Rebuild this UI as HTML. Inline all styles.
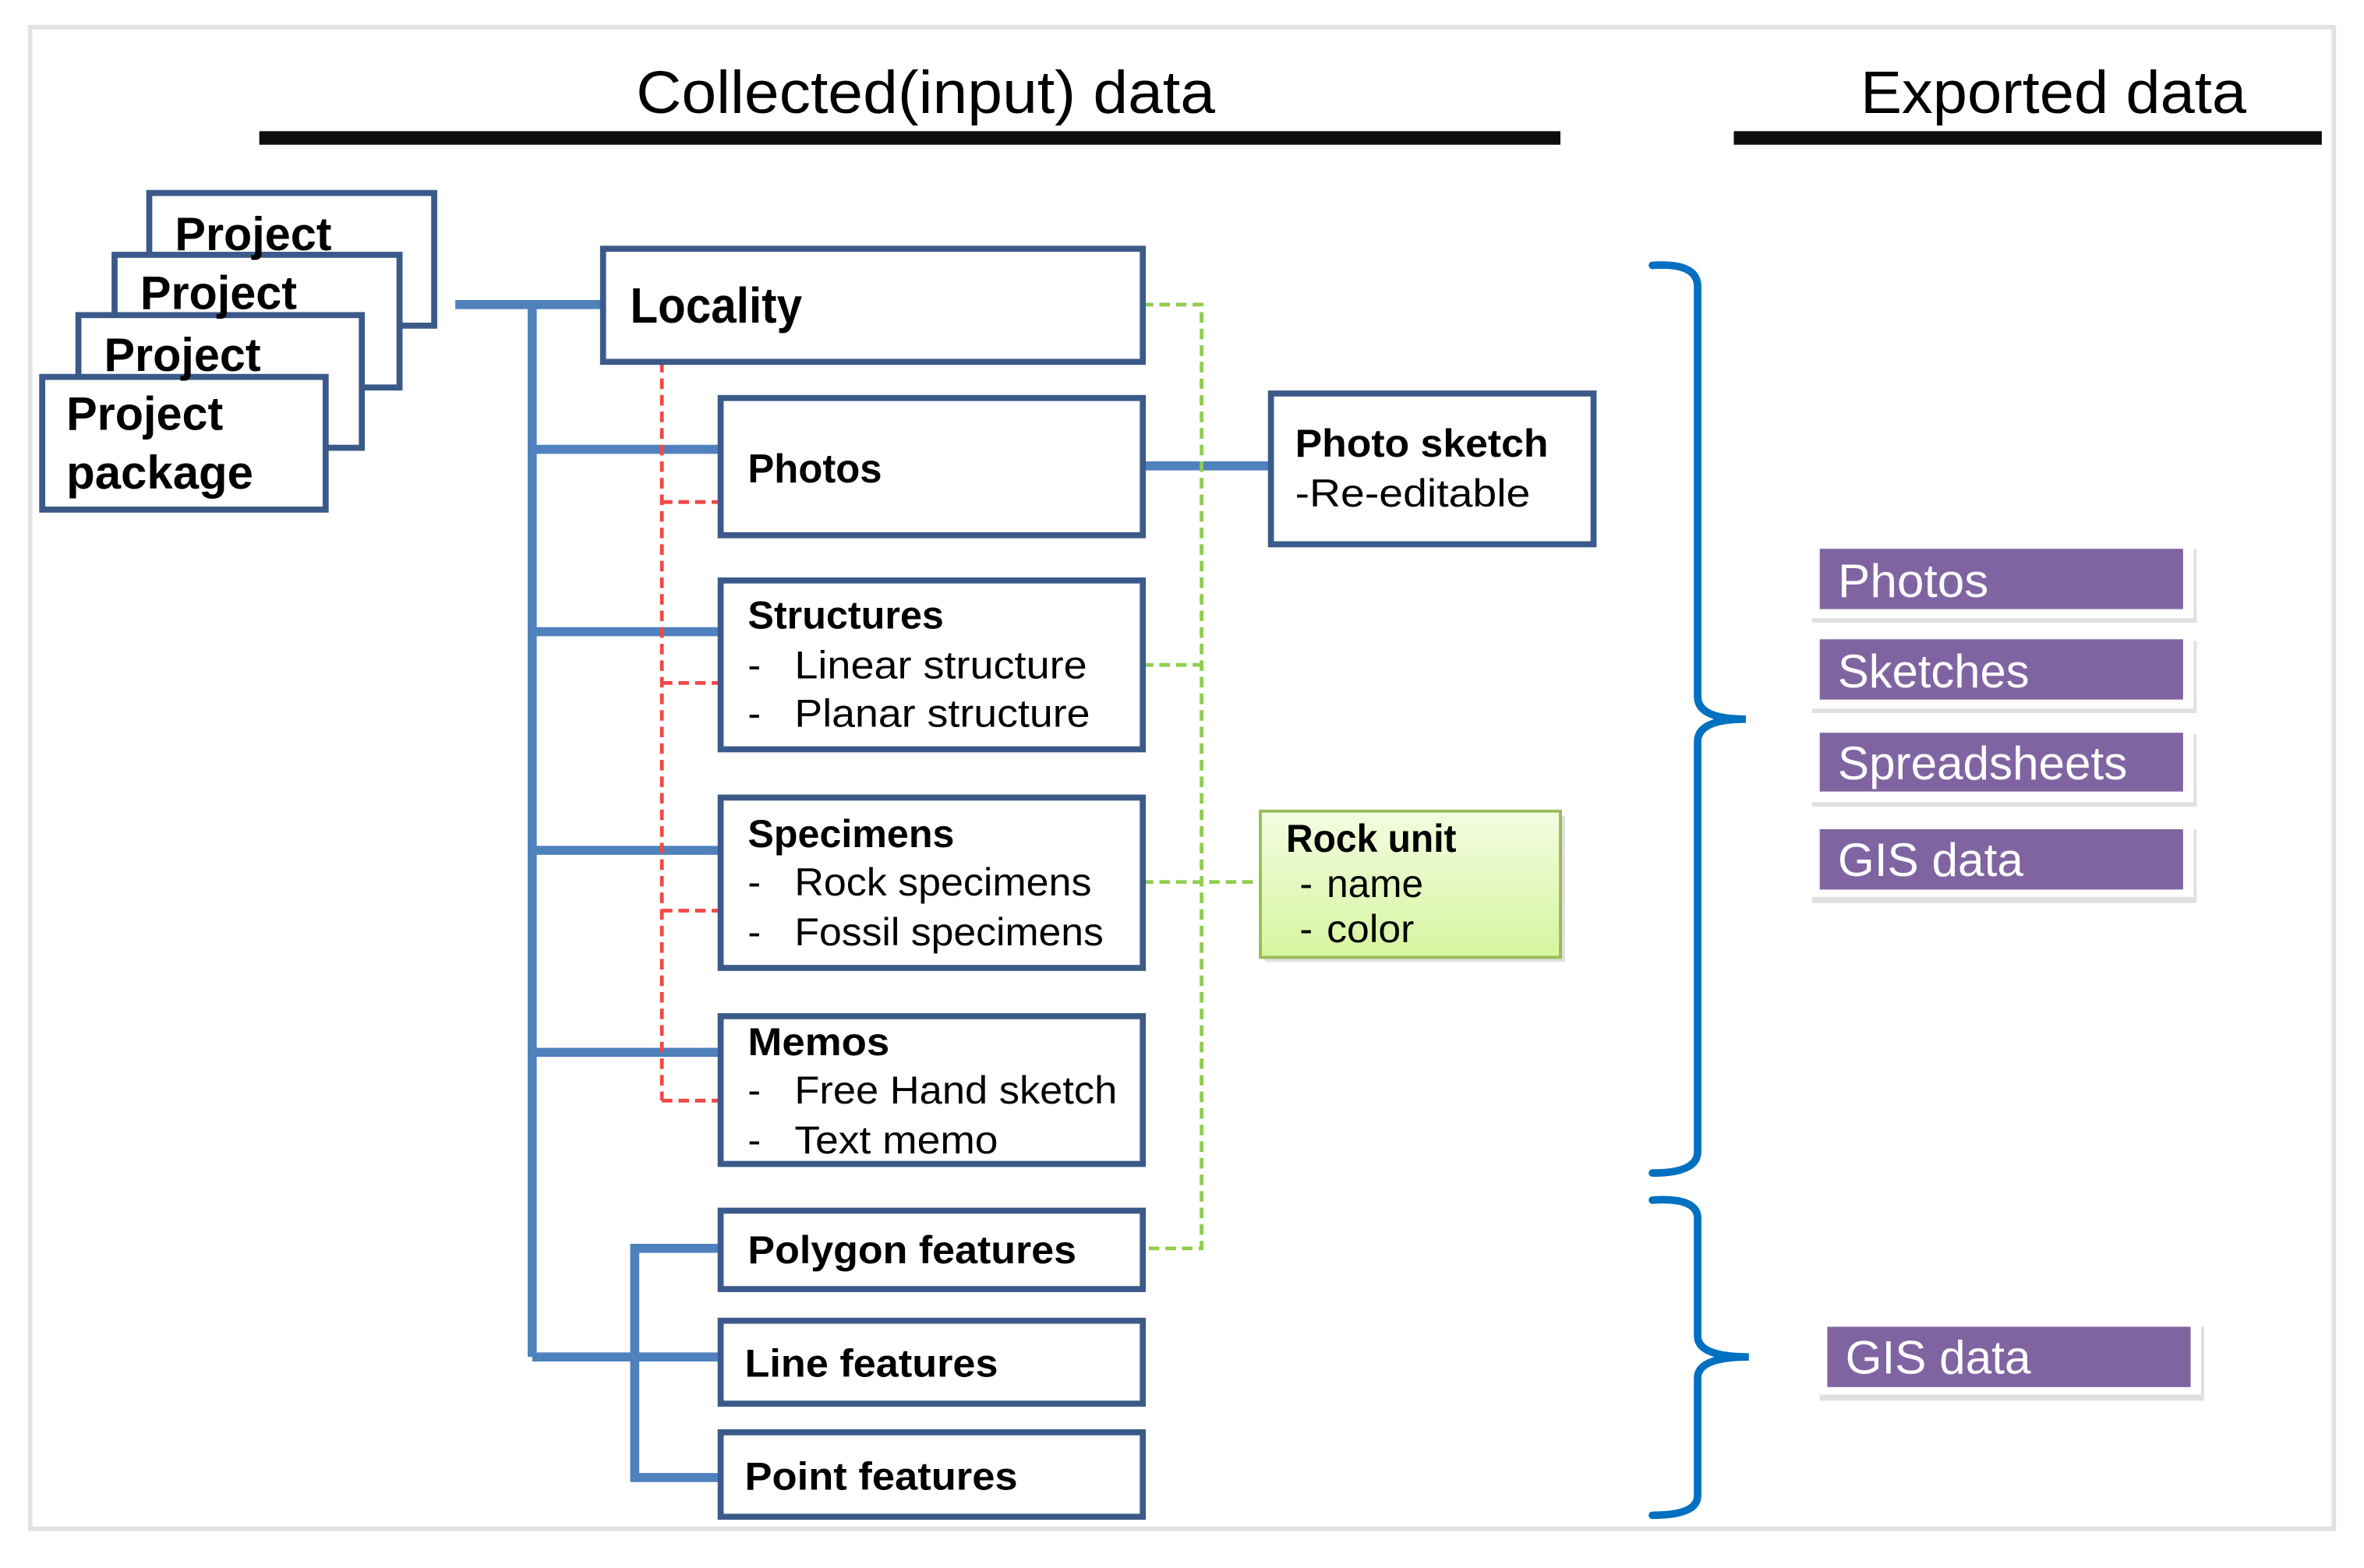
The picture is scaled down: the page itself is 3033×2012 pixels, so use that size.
<!DOCTYPE html>
<html><head><meta charset="utf-8"><style>
html,body{margin:0;padding:0;background:#fff;width:3033px;height:2012px;overflow:hidden}
svg{display:block}
text{font-family:"Liberation Sans",sans-serif;fill:#000}
.b{font-weight:bold}
.w{fill:#fff}
</style></head><body>
<svg width="3033" height="2012" viewBox="0 0 1568 1040" preserveAspectRatio="none" xmlns="http://www.w3.org/2000/svg">
<defs>
<linearGradient id="g" x1="0" y1="0" x2="0" y2="1"><stop offset="0" stop-color="#f3fce0"/><stop offset="1" stop-color="#d6f5a0"/></linearGradient>
</defs>
<rect x="20" y="18" width="1528" height="996" fill="#fff" stroke="#e2e2e2" stroke-width="3"/>
<!-- headers -->
<text x="614" y="75" font-size="40" text-anchor="middle" textLength="384" lengthAdjust="spacingAndGlyphs">Collected(input)  data</text>
<rect x="172" y="87" width="863" height="9" fill="#0d0d0d"/>
<text x="1362" y="75" font-size="40" text-anchor="middle" textLength="256" lengthAdjust="spacingAndGlyphs">Exported  data</text>
<rect x="1150" y="87" width="390" height="9" fill="#0d0d0d"/>
<!-- project stack -->
<g fill="#fff" stroke="#3b5a8a" stroke-width="4">
<rect x="99" y="128" width="189" height="88"/>
<rect x="76" y="169" width="189" height="88"/>
<rect x="52" y="209" width="188" height="88"/>
<rect x="28" y="250" width="188" height="88"/>
</g>
<g font-size="31" class="b">
<text x="116" y="166" class="b" textLength="104" lengthAdjust="spacingAndGlyphs">Project</text>
<text x="93" y="205" class="b" textLength="104" lengthAdjust="spacingAndGlyphs">Project</text>
<text x="69" y="246" class="b" textLength="104" lengthAdjust="spacingAndGlyphs">Project</text>
<text x="44" y="285" class="b" textLength="104" lengthAdjust="spacingAndGlyphs">Project</text>
<text x="44" y="324" class="b" textLength="124" lengthAdjust="spacingAndGlyphs">package</text>
</g>
<!-- blue connectors -->
<g stroke="#4f81bd" stroke-width="6" fill="none">
<path d="M302 202 H400"/>
<path d="M353 202 V900"/>
<path d="M353 298 H478 M353 419 H478 M353 564 H478 M353 698 H478 M353 900 H478"/>
<path d="M478 828 H421 V980 H478"/>
<path d="M758 309 H843"/>
</g>
<!-- red dashed -->
<g stroke="#f04848" stroke-width="2.5" fill="none" stroke-dasharray="7,4">
<path d="M439 240 V730"/>
<path d="M439 333 H478 M439 453 H478 M439 604 H478 M439 730 H478"/>
</g>
<!-- green dashed -->
<g stroke="#92cc50" stroke-width="2.5" fill="none" stroke-dasharray="7,4">
<path d="M758 202 H797 V828 H758"/>
<path d="M758 441 H797 M758 585 H836"/>
</g>
<!-- main boxes -->
<g fill="#fff" stroke="#3b5a8a" stroke-width="4">
<rect x="400" y="165" width="358" height="75"/>
<rect x="478" y="264" width="280" height="91"/>
<rect x="478" y="385" width="280" height="112"/>
<rect x="478" y="529" width="280" height="113"/>
<rect x="478" y="674" width="280" height="98"/>
<rect x="478" y="803" width="280" height="52"/>
<rect x="478" y="876" width="280" height="55"/>
<rect x="478" y="950" width="280" height="56"/>
<rect x="843" y="261" width="214" height="100"/>
</g>
<rect x="839" y="541" width="199" height="97" fill="#000" opacity="0.12"/>
<rect x="836" y="538" width="199" height="97" fill="url(#g)" stroke="#9bbb59" stroke-width="2"/>
<text x="418" y="214" font-size="33" class="b" textLength="114" lengthAdjust="spacingAndGlyphs">Locality</text>
<text x="496" y="320" font-size="27" class="b" textLength="89" lengthAdjust="spacingAndGlyphs">Photos</text>
<g font-size="26">
<text x="496" y="417" class="b" textLength="130" lengthAdjust="spacingAndGlyphs">Structures</text>
<text x="496" y="450">-</text><text x="527" y="450" textLength="194" lengthAdjust="spacingAndGlyphs">Linear structure</text>
<text x="496" y="482">-</text><text x="527" y="482" textLength="196" lengthAdjust="spacingAndGlyphs">Planar structure</text>
<text x="496" y="562" class="b" textLength="137" lengthAdjust="spacingAndGlyphs">Specimens</text>
<text x="496" y="594">-</text><text x="527" y="594" textLength="197" lengthAdjust="spacingAndGlyphs">Rock specimens</text>
<text x="496" y="627">-</text><text x="527" y="627" textLength="205" lengthAdjust="spacingAndGlyphs">Fossil specimens</text>
<text x="496" y="700" class="b" textLength="94" lengthAdjust="spacingAndGlyphs">Memos</text>
<text x="496" y="732">-</text><text x="527" y="732" textLength="214" lengthAdjust="spacingAndGlyphs">Free Hand sketch</text>
<text x="496" y="765">-</text><text x="527" y="765" textLength="135" lengthAdjust="spacingAndGlyphs">Text memo</text>
<text x="496" y="838" class="b" textLength="218" lengthAdjust="spacingAndGlyphs">Polygon features</text>
<text x="494" y="913" class="b" textLength="168" lengthAdjust="spacingAndGlyphs">Line features</text>
<text x="494" y="988" class="b" textLength="181" lengthAdjust="spacingAndGlyphs">Point features</text>
<text x="859" y="303" class="b" textLength="168" lengthAdjust="spacingAndGlyphs">Photo sketch</text>
<text x="859" y="336" textLength="156" lengthAdjust="spacingAndGlyphs">-Re-editable</text>
<text x="853" y="565" class="b" textLength="113" lengthAdjust="spacingAndGlyphs">Rock unit</text>
<text x="862" y="595">-</text><text x="880" y="595" textLength="64" lengthAdjust="spacingAndGlyphs">name</text>
<text x="862" y="625">-</text><text x="880" y="625" textLength="58" lengthAdjust="spacingAndGlyphs">color</text>
</g>
<!-- brackets -->
<g stroke="#0070c0" stroke-width="5" fill="none" stroke-linecap="round">
<path d="M1096 176 Q1126 174 1126 190 V462 Q1126 477 1158 477 Q1126 477 1126 492 V764 Q1126 778 1096 778"/>
<path d="M1096 796 Q1126 794 1126 808 V886 Q1126 900 1160 900 Q1126 900 1126 914 V992 Q1126 1005 1096 1005"/>
</g>
<!-- exported boxes -->
<g>
<rect x="1202" y="364" width="255" height="49" fill="#000" opacity="0.12"/>
<rect x="1200" y="361" width="255" height="49" fill="#fff"/>
<rect x="1207" y="364" width="241" height="40" fill="#8064a2"/>
<rect x="1202" y="425" width="255" height="48" fill="#000" opacity="0.12"/>
<rect x="1200" y="421" width="255" height="49" fill="#fff"/>
<rect x="1207" y="424" width="241" height="40" fill="#8064a2"/>
<rect x="1202" y="487" width="255" height="48" fill="#000" opacity="0.12"/>
<rect x="1200" y="483" width="255" height="49" fill="#fff"/>
<rect x="1207" y="486" width="241" height="39" fill="#8064a2"/>
<rect x="1202" y="550" width="255" height="49" fill="#000" opacity="0.12"/>
<rect x="1200" y="546" width="255" height="49" fill="#fff"/>
<rect x="1207" y="550" width="241" height="40" fill="#8064a2"/>
<rect x="1207" y="880" width="255" height="49" fill="#000" opacity="0.12"/>
<rect x="1205" y="876" width="255" height="49" fill="#fff"/>
<rect x="1212" y="880" width="241" height="40" fill="#8064a2"/>
</g>
<g font-size="31">
<text x="1219" y="396" class="w" textLength="100" lengthAdjust="spacingAndGlyphs">Photos</text>
<text x="1219" y="456" class="w" textLength="127" lengthAdjust="spacingAndGlyphs">Sketches</text>
<text x="1219" y="517" class="w" textLength="192" lengthAdjust="spacingAndGlyphs">Spreadsheets</text>
<text x="1219" y="581" class="w" textLength="123" lengthAdjust="spacingAndGlyphs">GIS data</text>
<text x="1224" y="911" class="w" textLength="123" lengthAdjust="spacingAndGlyphs">GIS data</text>
</g>
</svg>
</body></html>
